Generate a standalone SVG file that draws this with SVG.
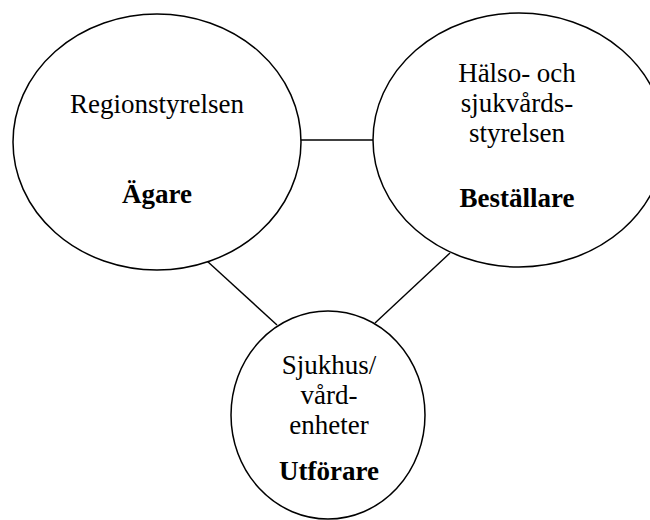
<svg xmlns="http://www.w3.org/2000/svg" width="650" height="520" viewBox="0 0 650 520">
<style>
.shape{fill:#fff;stroke:#000;stroke-width:1.5}
.conn{stroke:#000;stroke-width:1.4;fill:none}
.t{font-family:"Liberation Serif","Times New Roman",serif;font-size:27px;fill:#000;text-anchor:middle}
.b{font-weight:bold}
</style>
<rect width="650" height="520" fill="#fff"/>
<g id="connectors">
<line class="conn" x1="300" y1="140" x2="374" y2="140"/>
<line class="conn" x1="207" y1="261" x2="277" y2="325"/>
<line class="conn" x1="450" y1="253" x2="375" y2="323"/>
</g>
<g id="node-agare">
<ellipse class="shape" cx="157" cy="142" rx="144" ry="128"/>
<text class="t" x="157" y="113">Regionstyrelsen</text>
<text class="t b" x="157" y="203">Ägare</text>
</g>
<g id="node-bestallare">
<ellipse class="shape" cx="519" cy="140" rx="146" ry="127"/>
<text class="t" x="517" y="82">Hälso- och</text>
<text class="t" x="517" y="112">sjukvårds-</text>
<text class="t" x="517" y="142">styrelsen</text>
<text class="t b" x="517" y="207">Beställare</text>
</g>
<g id="node-utforare">
<ellipse class="shape" cx="328" cy="415" rx="97" ry="104"/>
<text class="t" x="329" y="374">Sjukhus/</text>
<text class="t" x="329" y="404">vård-</text>
<text class="t" x="329" y="434">enheter</text>
<text class="t b" x="329" y="480">Utförare</text>
</g>
</svg>
